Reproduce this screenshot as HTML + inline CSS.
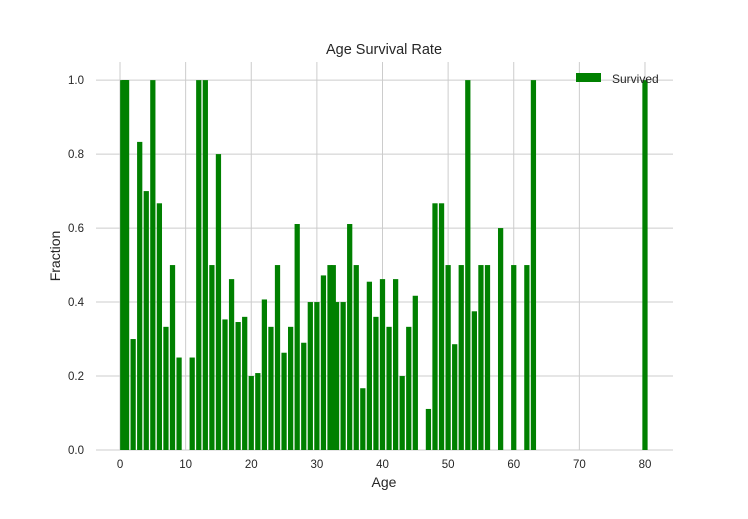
<!DOCTYPE html>
<html><head><meta charset="utf-8"><style>
html,body{margin:0;padding:0;background:#fff;}
svg text{font-family:"Liberation Sans",sans-serif;fill:#262626;}
</style></head><body>
<svg id="chart" width="748" height="514" xmlns="http://www.w3.org/2000/svg">
<g id="grid"></g>
<g id="bars"></g>
<g id="ticks"></g>
<text x="384" y="54" text-anchor="middle" font-size="14.5">Age Survival Rate</text>
<text x="384" y="487" text-anchor="middle" font-size="14">Age</text>
<text x="60" y="256" text-anchor="middle" font-size="14" transform="rotate(-90 60 256)">Fraction</text>
<g>
<rect x="576" y="73" width="25" height="9" fill="#008000"></rect>
<text x="612" y="83" font-size="12">Survived</text>
</g>
</svg>
<script>
const ages = [0.42,0.67,0.75,0.83,0.92,1,2,3,4,5,6,7,8,9,11,12,13,14,15,16,17,18,19,20,21,22,23,24,25,26,27,28,29,30,31,32,32.5,33,34,35,36,37,38,39,40,41,42,43,44,45,47,48,49,50,51,52,53,54,55,56,58,60,62,63,80];
const survival = [1,1,1,1,1,1,0.3,0.833,0.7,1,0.667,0.333,0.5,0.25,0.25,1,1,0.5,0.8,0.353,0.462,0.346,0.36,0.2,0.208,0.407,0.333,0.5,0.263,0.333,0.611,0.29,0.4,0.4,0.472,0.5,0.5,0.4,0.4,0.611,0.5,0.167,0.455,0.36,0.462,0.333,0.462,0.2,0.333,0.417,0.111,0.667,0.667,0.5,0.286,0.5,1,0.375,0.5,0.5,0.6,0.5,0.5,1,1];
const xTicks = [0,10,20,30,40,50,60,70,80];
const yTicks = [0,0.2,0.4,0.6,0.8,1.0];
const NS="http://www.w3.org/2000/svg";
const X0=96,X1=673,Y0=450,Y1=62;
const xmin=-3.66,xmax=84.27,ymin=0,ymax=1.049;
const sx=v=>X0+(v-xmin)/(xmax-xmin)*(X1-X0);
const sy=v=>Y0-(v-ymin)/(ymax-ymin)*(Y0-Y1);
const grid=document.getElementById('grid'),bars=document.getElementById('bars'),ticks=document.getElementById('ticks');
function mk(t,a,p){const e=document.createElementNS(NS,t);for(const k in a)e.setAttribute(k,a[k]);p.appendChild(e);return e;}
xTicks.forEach(t=>{
  const l=mk('line',{x1:sx(t),x2:sx(t),y1:Y1,y2:Y0,stroke:'#cccccc','stroke-width':1},grid);
  
  
  const tx=mk('text',{x:sx(t),y:Y0+18,'text-anchor':'middle','font-size':11.5},ticks);
  tx.textContent=String(t);
  
  
});
yTicks.forEach(t=>{
  const l=mk('line',{x1:X0,x2:X1,y1:sy(t),y2:sy(t),stroke:'#cccccc','stroke-width':1},grid);
  
  
  const tx=mk('text',{x:84,y:sy(t)+4,'text-anchor':'end','font-size':11.5},ticks);
  tx.textContent=t.toFixed(1);
  
  
});
ages.forEach((a,i)=>{
  const v=survival[i];
  const r=mk('rect',{x:sx(a-0.4),width:sx(a+0.4)-sx(a-0.4),y:sy(v),height:sy(0)-sy(v),fill:'#008000'},bars);
  
  
});
</script>
</body></html>
